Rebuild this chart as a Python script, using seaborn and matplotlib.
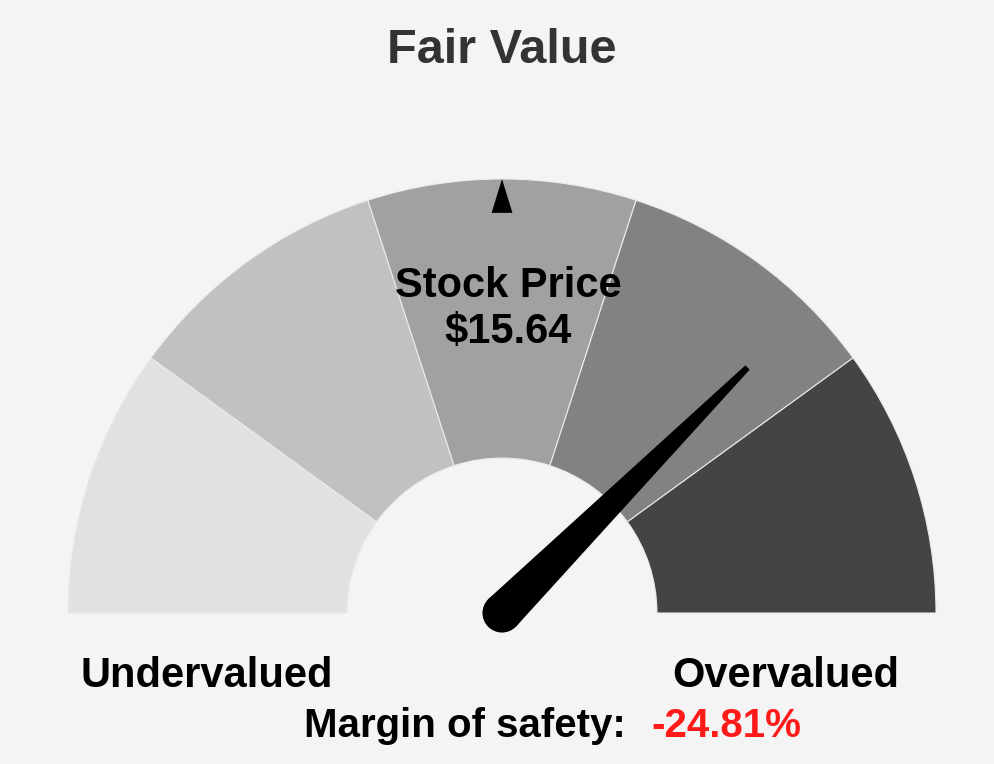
import numpy as np
import matplotlib
matplotlib.use("Agg")
import matplotlib.pyplot as plt
from matplotlib.patches import Wedge, Polygon, Circle
import seaborn as sns

# gauge data
segment_colors = ["#e1e1e1", "#c1c1c1", "#a1a1a1", "#828282", "#444444"]
segment_bounds = [0.0, 0.2, 0.4, 0.6, 0.8, 1.0]   # fraction of gauge, left -> right
needle_pos = 0.75          # where the needle points (fraction of gauge)
price_marker_pos = 0.5     # small triangle for stock price
stock_price = 15.64
margin_of_safety = -24.81
side_labels = ["Undervalued", "Overvalued"]
title = "Fair Value"

BG = "#f4f4f4"
R_OUT = 1.0
R_IN = 0.357

sns.set_theme(style="white", rc={"figure.facecolor": BG, "axes.facecolor": BG})
plt.rcParams["font.family"] = ["Liberation Sans", "DejaVu Sans"]


def pos_to_deg(p):
    return 180.0 * (1.0 - p)


fig = plt.figure(figsize=(9.94, 7.64), dpi=100)
ax = fig.add_axes([0, 0, 1, 1])
ax.set_xlim(-502 / 434, 492 / 434)
ax.set_ylim(-151 / 434, 613 / 434)
ax.set_aspect("equal")
ax.axis("off")

# segments
for i, col in enumerate(segment_colors):
    a1 = pos_to_deg(segment_bounds[i + 1])
    a2 = pos_to_deg(segment_bounds[i])
    ax.add_patch(Wedge((0, 0), R_OUT, a1, a2, width=R_OUT - R_IN,
                       facecolor=col, edgecolor="#ebebeb", linewidth=0.8))

# stock price marker
th = np.deg2rad(pos_to_deg(price_marker_pos))
d = np.array([np.cos(th), np.sin(th)])
n = np.array([-np.sin(th), np.cos(th)])
tri = [d * 1.0, d * 0.922 + n * 0.024, d * 0.922 - n * 0.024]
ax.add_patch(Polygon(tri, closed=True, facecolor="black", edgecolor="none", zorder=5))

# needle
th = np.deg2rad(pos_to_deg(needle_pos))
d = np.array([np.cos(th), np.sin(th)])
n = np.array([-np.sin(th), np.cos(th)])
base_w = 0.045
tip_w = 0.007
tip_len = 0.80
needle = [n * base_w, d * tip_len + n * tip_w, d * tip_len - n * tip_w, -n * base_w]
ax.add_patch(Polygon(needle, closed=True, facecolor="black", edgecolor="none", zorder=6))
ax.add_patch(Circle((0, 0), base_w, facecolor="black", edgecolor="none", zorder=6))

# texts
ax.text(0, (613 - 63) / 434, title, ha="center", va="baseline",
        fontsize=35, fontweight="bold", color="#333333")
ax.text(6 / 434, (613 - 297) / 434, "Stock Price", ha="center", va="baseline",
        fontsize=30, fontweight="bold", color="black", zorder=7)
ax.text(6 / 434, (613 - 343) / 434, f"${stock_price:.2f}", ha="center", va="baseline",
        fontsize=30, fontweight="bold", color="black", zorder=7)
ax.text((207 - 502) / 434, (613 - 687) / 434, side_labels[0], ha="center", va="baseline",
        fontsize=30, fontweight="bold", color="black")
ax.text((786 - 502) / 434, (613 - 687) / 434, side_labels[1], ha="center", va="baseline",
        fontsize=30, fontweight="bold", color="black")
ax.text((626 - 502) / 434, (613 - 737) / 434, "Margin of safety:", ha="right", va="baseline",
        fontsize=29, fontweight="bold", color="black")
ax.text((651 - 502) / 434, (613 - 737) / 434, f"{margin_of_safety:.2f}%", ha="left", va="baseline",
        fontsize=29, fontweight="bold", color="#ff1a1a")

fig.savefig("out.png", dpi=100, facecolor=BG)
